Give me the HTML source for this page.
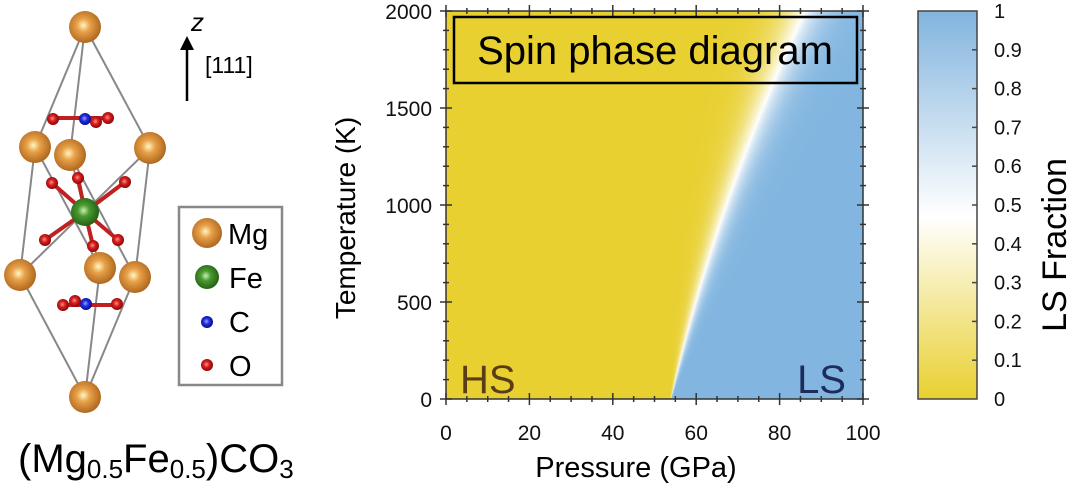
<!DOCTYPE html>
<html><head><meta charset="utf-8"><style>
body{margin:0;background:#fff;width:1072px;height:492px;overflow:hidden;font-family:"Liberation Sans",sans-serif;position:relative}
.abs{position:absolute}
</style></head><body>
<svg class="abs" style="left:0;top:0" width="1072" height="492">
<defs>
<radialGradient id="mg" cx="0.45" cy="0.45" r="0.6"><stop offset="0" stop-color="#fff6c0"/><stop offset="0.35" stop-color="#e8a048"/><stop offset="1" stop-color="#a8601a"/></radialGradient>
<radialGradient id="fe" cx="0.45" cy="0.45" r="0.6"><stop offset="0" stop-color="#c8f0b0"/><stop offset="0.35" stop-color="#4a9a30"/><stop offset="1" stop-color="#1e5a10"/></radialGradient>
<radialGradient id="o" cx="0.45" cy="0.45" r="0.6"><stop offset="0" stop-color="#ff9090"/><stop offset="0.4" stop-color="#d82020"/><stop offset="1" stop-color="#800000"/></radialGradient>
<radialGradient id="c" cx="0.45" cy="0.45" r="0.6"><stop offset="0" stop-color="#a0a0ff"/><stop offset="0.4" stop-color="#2030e0"/><stop offset="1" stop-color="#000880"/></radialGradient>
<linearGradient id="cb" x1="0" y1="1" x2="0" y2="0"><stop offset="0" stop-color="#e8d030"/><stop offset="0.47" stop-color="#ffffff"/><stop offset="1" stop-color="#82b4de"/></linearGradient>
</defs>
<g stroke="#888" stroke-width="2" fill="none">
<path d="M85 27L35 147M85 27L70 155M85 27L150 148M35 147L20 275M150 148L135 277M70 155L100 268M35 147L100 268M150 148L20 275M70 155L135 277M20 275L85 397M135 277L85 397M100 268L85 397"/>
</g>
<g stroke-width="4">
<line x1="85" y1="212" x2="52" y2="183" stroke="#c02020"/><line x1="85" y1="212" x2="125" y2="182" stroke="#c02020"/>
<line x1="85" y1="212" x2="78" y2="178" stroke="#c02020"/><line x1="85" y1="212" x2="45" y2="240" stroke="#c02020"/>
<line x1="85" y1="212" x2="93" y2="246" stroke="#c02020"/><line x1="85" y1="212" x2="118" y2="240" stroke="#c02020"/>
<line x1="52" y1="118" x2="108" y2="118" stroke="#c02020"/><line x1="64" y1="305" x2="118" y2="305" stroke="#c02020"/>
</g>
<circle cx="85" cy="212" r="14" fill="url(#fe)"/>
<g fill="url(#o)">
<circle cx="52" cy="183" r="6"/><circle cx="125" cy="182" r="6"/><circle cx="78" cy="178" r="6"/><circle cx="45" cy="240" r="6"/><circle cx="93" cy="246" r="6"/><circle cx="118" cy="240" r="6"/>
<circle cx="53" cy="119" r="6"/><circle cx="108" cy="118" r="6"/><circle cx="96" cy="122" r="6"/>
<circle cx="63" cy="305" r="6"/><circle cx="117" cy="304" r="6"/><circle cx="75" cy="301" r="6"/>
</g>
<g fill="url(#c)"><circle cx="85" cy="119" r="6"/><circle cx="86" cy="304" r="6"/></g>
<g fill="url(#mg)">
<circle cx="85" cy="27" r="16"/><circle cx="35" cy="147" r="16"/><circle cx="150" cy="148" r="16"/><circle cx="70" cy="155" r="16"/>
<circle cx="20" cy="275" r="16"/><circle cx="100" cy="268" r="16"/><circle cx="135" cy="277" r="16"/><circle cx="85" cy="397" r="16"/>
</g>
<line x1="187" y1="101" x2="187" y2="45" stroke="#000" stroke-width="2.5"/><path d="M180 50L187 36L194 50Z"/>
<text x="191" y="31" font-size="26" font-style="italic">z</text>
<text x="205" y="73" font-size="23">[111]</text>
<rect x="179" y="207" width="103" height="178" fill="#fff" stroke="#888" stroke-width="2.5"/>
<circle cx="207" cy="233" r="15" fill="url(#mg)"/><text x="228" y="244" font-size="29">Mg</text>
<circle cx="207" cy="277" r="12" fill="url(#fe)"/><text x="229" y="288" font-size="29">Fe</text>
<circle cx="207" cy="322" r="6" fill="url(#c)"/><text x="229" y="332" font-size="29">C</text>
<circle cx="207" cy="365" r="6" fill="url(#o)"/><text x="229" y="376" font-size="29">O</text>
<text x="18" y="472" font-size="40">(Mg<tspan font-size="26" dy="6">0.5</tspan><tspan dy="-6">Fe</tspan><tspan font-size="26" dy="6">0.5</tspan><tspan dy="-6">)CO</tspan><tspan font-size="26" dy="6">3</tspan></text>
<rect x="918" y="11" width="59" height="388" fill="url(#cb)" stroke="#444" stroke-width="1.5"/>
<g id="cbk" stroke="#444" stroke-width="1.5"></g>
<g id="cbt" font-size="20" fill="#111"></g>
<text transform="translate(1066,245) rotate(-90)" text-anchor="middle" font-size="34">LS Fraction</text>
<g id="axt" font-size="21" fill="#111"></g>
<text x="636" y="477" text-anchor="middle" font-size="29">Pressure (GPa)</text>
<text transform="translate(355,218) rotate(-90)" text-anchor="middle" font-size="28">Temperature (K)</text>
</svg>
<canvas id="hm" class="abs" style="left:446px;top:11px" width="417" height="388"></canvas>
<svg class="abs" style="left:0;top:0" width="1072" height="492">
<g id="tk" stroke="#333" stroke-width="1.5"></g>
<rect x="446" y="11" width="417" height="388" fill="none" stroke="#333" stroke-width="1.5"/>
<rect x="454" y="17" width="403" height="66" fill="none" stroke="#000" stroke-width="2.5"/>
<text x="655" y="64" text-anchor="middle" font-size="40">Spin phase diagram</text>
<text x="460" y="393" font-size="40" fill="#5a3c18">HS</text>
<text x="846" y="393" text-anchor="end" font-size="40" fill="#1e2c5c">LS</text>
</svg>
<script>
var c=document.getElementById('hm'),x=c.getContext('2d'),W=417,H=388,im=x.createImageData(W,H);
function col(f){var Y=[232,208,48],Wt=[255,255,255],B=[130,182,224],r=[];
 if(f<0.45){var t=f/0.45;for(var i=0;i<3;i++)r[i]=Y[i]+(Wt[i]-Y[i])*t;}else{var t=(f-0.45)/0.55;for(var i=0;i<3;i++)r[i]=Wt[i]+(B[i]-Wt[i])*Math.pow(t,0.7);}return r;}
for(var j=0;j<H;j++){var t=(H-1-j)/(H-1);var pc=54+22*t+11*t*t;var w=0.05+3.5*t;
 for(var i=0;i<W;i++){var P=i/(W-1)*100;var f=1/(1+Math.exp(-(P-pc)/w));var k=col(f),o=(j*W+i)*4;im.data[o]=k[0];im.data[o+1]=k[1];im.data[o+2]=k[2];im.data[o+3]=255;}}
x.putImageData(im,0,0);
var ns='http://www.w3.org/2000/svg';
function el(g,n,a,txt){var e=document.createElementNS(ns,n);for(var k in a)e.setAttribute(k,a[k]);if(txt!=null)e.textContent=txt;document.getElementById(g).appendChild(e);}
for(var p=0;p<=100;p+=5){var X=446+p*4.17,L=p%20==0?6:3;
 el('tk','line',{x1:X,y1:399-L,x2:X,y2:399+L});el('tk','line',{x1:X,y1:11-L,x2:X,y2:11+L});
 if(p%20==0)el('axt','text',{x:X,y:440,'text-anchor':'middle'},p);}
for(var T=0;T<=2000;T+=100){var Y=399-T*0.194,L=T%500==0?6:3;
 el('tk','line',{x1:446-L,y1:Y,x2:446+L,y2:Y});el('tk','line',{x1:863-L,y1:Y,x2:863+L,y2:Y});
 if(T%500==0)el('axt','text',{x:432,y:Y+8,'text-anchor':'end'},T);}
for(var v=0;v<=10;v++){var Y=399-v*38.8;el('cbt','text',{x:994,y:Y+7},v==0?'0':v==10?'1':'0.'+v);
 if(v>0&&v<10)el('cbk','line',{x1:972,y1:Y,x2:977,y2:Y});}
</script>
</body></html>
